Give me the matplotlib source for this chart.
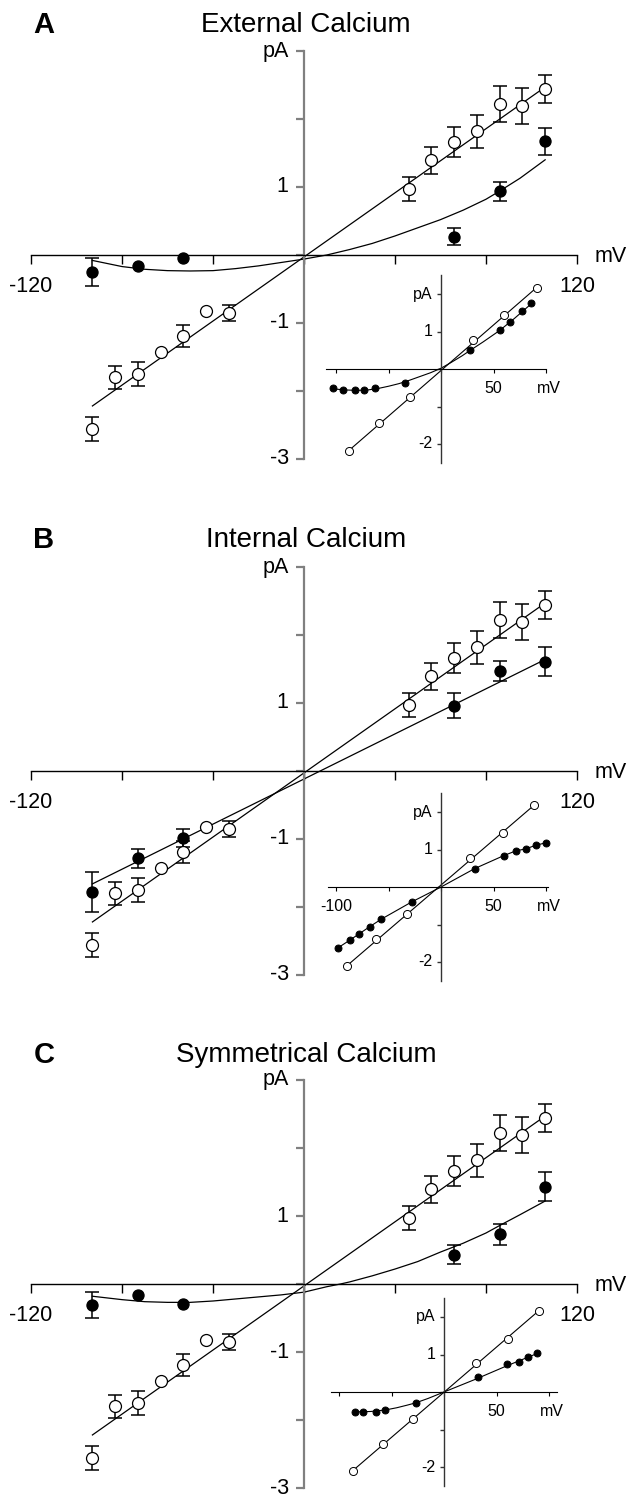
import matplotlib.pyplot as plt
import numpy as np

plt.rcParams['font.family'] = ['Liberation Sans', 'DejaVu Sans']

W, H = 630, 1499

# control recordings (open circles), same in all three panels
open_v = [-93, -83, -73, -63, -53, -43, -33, 46, 56, 66, 76, 86, 96, 106]
open_i = [-2.56, -1.80, -1.75, -1.43, -1.19, -0.83, -0.85,
          0.97, 1.39, 1.66, 1.82, 2.22, 2.19, 2.44]
open_err = [0.18, 0.17, 0.17, 0, 0.16, 0, 0.12,
            0.18, 0.20, 0.22, 0.24, 0.26, 0.26, 0.21]
open_fit_v = [-93, 106]
open_fit_i = [-2.22, 2.47]

# calcium recordings (filled circles)
filled_v = [-93, -73, -53, 66, 86, 106]
ext_i = [-0.25, -0.16, -0.05, 0.27, 0.94, 1.67]
ext_err = [0.20, 0, 0, 0.13, 0.14, 0.20]
int_i = [-1.78, -1.28, -0.99, 0.96, 1.47, 1.61]
int_err = [0.29, 0.14, 0.13, 0.18, 0.15, 0.22]
sym_i = [-0.31, -0.16, -0.30, 0.43, 0.73, 1.43]
sym_err = [0.19, 0, 0, 0.14, 0.15, 0.21]

# fitted curves for filled data
ext_fit_v = [-93, -80, -70, -60, -50, -40, -30, -20, -10, 0, 10, 20, 30, 40,
             50, 60, 70, 80, 86, 95, 106]
ext_fit_i = [-0.08, -0.17, -0.21, -0.23, -0.235, -0.23, -0.20, -0.16, -0.11,
             -0.06, 0.0, 0.08, 0.17, 0.28, 0.40, 0.52, 0.66, 0.82, 0.94, 1.13, 1.40]
int_fit_v = [-93, 106]
int_fit_i = [-1.66, 1.64]
sym_fit_v = [-93, -80, -70, -60, -50, -40, -30, -20, -10, 0, 10, 16, 20, 30,
             40, 50, 60, 70, 80, 86, 95, 106]
sym_fit_i = [-0.18, -0.23, -0.26, -0.27, -0.27, -0.25, -0.22, -0.19, -0.16,
             -0.12, -0.04, 0.0, 0.03, 0.12, 0.22, 0.33, 0.47, 0.60, 0.75, 0.86,
             1.02, 1.22]

# insets
ins_open_a_v = [-88, -59, -30, 30, 60, 91]
ins_open_a_i = [-2.18, -1.43, -0.75, 0.77, 1.43, 2.17]
ins_fill_a_v = [-103, -93, -82, -73, -63, -34, 28, 56, 66, 77, 86]
ins_fill_a_i = [-0.51, -0.57, -0.57, -0.57, -0.51, -0.36, 0.52, 1.04, 1.26, 1.54, 1.75]
ins_fit_a_v = [-103, -90, -80, -70, -60, -50, -40, -30, -20, -10, 0, 10, 20, 28,
               40, 56, 70, 86]
ins_fit_a_i = [-0.53, -0.56, -0.57, -0.56, -0.52, -0.46, -0.39, -0.30, -0.20,
               -0.10, 0.02, 0.18, 0.35, 0.50, 0.72, 1.03, 1.35, 1.74]

ins_open_b_v = [-90, -62, -32, 28, 59, 89]
ins_open_b_i = [-2.11, -1.39, -0.71, 0.77, 1.44, 2.19]
ins_fill_b_v = [-98, -87, -78, -68, -57, -28, 32, 60, 71, 81, 90, 100]
ins_fill_b_i = [-1.62, -1.42, -1.25, -1.06, -0.86, -0.40, 0.49, 0.84, 0.96,
                1.02, 1.11, 1.18]
ins_fit_b_v = [-98, -87, -78, -68, -57, -28, 0, 32, 60, 71, 81, 90, 100]
ins_fit_b_i = [-1.62, -1.42, -1.25, -1.06, -0.86, -0.40, 0.0, 0.49, 0.84, 0.96,
               1.02, 1.11, 1.18]

ins_open_c_v = [-87, -58, -30, 30, 61, 90]
ins_open_c_i = [-2.10, -1.38, -0.71, 0.78, 1.41, 2.16]
ins_fill_c_v = [-85, -77, -65, -56, -27, 32, 60, 71, 80, 89]
ins_fill_c_i = [-0.52, -0.52, -0.52, -0.48, -0.29, 0.40, 0.74, 0.79, 0.93, 1.03]
ins_fit_c_v = [-85, -70, -56, -45, -35, -27, -15, 0, 30, 60, 89]
ins_fit_c_i = [-0.53, -0.52, -0.48, -0.42, -0.35, -0.29, -0.17, 0.0, 0.34, 0.70, 1.03]

titles = ['External Calcium', 'Internal Calcium', 'Symmetrical Calcium']
letters = ['A', 'B', 'C']


def px_axes(fig, x0, x1, y0, y1):
    return fig.add_axes([x0 / W, 1 - y1 / H, (x1 - x0) / W, (y1 - y0) / H])


def style_axes(ax, ycol, ylw, xlw, xt_len, yt_len):
    for s in ['top', 'right']:
        ax.spines[s].set_visible(False)
    ax.spines['left'].set_position(('data', 0))
    ax.spines['bottom'].set_position(('data', 0))
    ax.spines['left'].set_color(ycol)
    ax.spines['left'].set_linewidth(ylw)
    ax.spines['bottom'].set_color('black')
    ax.spines['bottom'].set_linewidth(xlw)
    ax.tick_params(axis='x', direction='out', length=xt_len, width=xlw,
                   labelbottom=False, color='black')
    ax.tick_params(axis='y', direction='out', length=yt_len, width=ylw,
                   labelleft=False, color=ycol)
    ax.patch.set_visible(False)


def draw_points(ax, v, i, err, face, ms, mew, capsize, ew):
    v = np.array(v)
    i = np.array(i)
    if err is not None:
        err = np.array(err)
        m = err > 0
        cont = ax.errorbar(v[m], i[m], yerr=err[m], fmt='none', ecolor='black',
                           elinewidth=ew, capsize=capsize, capthick=ew, zorder=3)
        for c in cont.get_children():
            c.set_clip_on(False)
    ax.plot(v, i, 'o', ms=ms, mfc=face, mec='black', mew=mew, zorder=4,
            clip_on=False)


fig = plt.figure(figsize=(W / 100, H / 100), dpi=100)

panels = [
    dict(y0=255, title_y=25, fill_i=ext_i, fill_err=ext_err,
         fit_v=ext_fit_v, fit_i=ext_fit_i,
         ins=(441, 369, -110, 100),
         iov=ins_open_a_v, ioi=ins_open_a_i, ifv=ins_fill_a_v, ifi=ins_fill_a_i,
         itv=ins_fit_a_v, iti=ins_fit_a_i, neg100=False),
    dict(y0=771, title_y=540, fill_i=int_i, fill_err=int_err,
         fit_v=int_fit_v, fit_i=int_fit_i,
         ins=(441, 887, -108, 102),
         iov=ins_open_b_v, ioi=ins_open_b_i, ifv=ins_fill_b_v, ifi=ins_fill_b_i,
         itv=ins_fit_b_v, iti=ins_fit_b_i, neg100=True),
    dict(y0=1284, title_y=1055, fill_i=sym_i, fill_err=sym_err,
         fit_v=sym_fit_v, fit_i=sym_fit_i,
         ins=(444, 1392, -108, 108),
         iov=ins_open_c_v, ioi=ins_open_c_i, ifv=ins_fill_c_v, ifi=ins_fill_c_i,
         itv=ins_fit_c_v, iti=ins_fit_c_i, neg100=False),
]

ppa = 68.0          # pixels per pA, main axes
x_left, x_right = 31, 577

for k, p in enumerate(panels):
    fig.text(306 / W, 1 - p['title_y'] / H, titles[k], ha='center', va='center',
             fontsize=20)
    fig.text(44 / W, 1 - p['title_y'] / H, letters[k], ha='center', va='center',
             fontsize=21, fontweight='bold')

    y0 = p['y0']
    ax = px_axes(fig, x_left, x_right, y0 - 3 * ppa, y0 + 3 * ppa)
    ax.set_xlim(-120, 120)
    ax.set_ylim(-3, 3)
    style_axes(ax, '#808080', 1.6, 1.0, 6.5, 5.8)
    ax.set_xticks(np.arange(-120, 121, 40))
    ax.set_yticks(np.arange(-3, 4, 1))

    ax.plot(open_fit_v, open_fit_i, color='black', lw=0.9, zorder=2, clip_on=False)
    ax.plot(p['fit_v'], p['fit_i'], color='black', lw=0.9, zorder=2, clip_on=False)
    draw_points(ax, open_v, open_i, open_err, 'white', 8.6, 0.9, 4.7, 1.1)
    draw_points(ax, filled_v, p['fill_i'], p['fill_err'], 'black', 8.0, 0.9, 4.7, 1.1)

    lab = dict(fontsize=15.5, textcoords='offset points', annotation_clip=False)
    for yv, t in [(3, 'pA'), (1, '1'), (-1, '-1'), (-3, '-3')]:
        ax.annotate(t, xy=(0, yv), xytext=(-11, 0), ha='right', va='center', **lab)
    ax.annotate('-120', xy=(-120, 0), xytext=(0, -23), ha='center', va='center', **lab)
    ax.annotate('120', xy=(120, 0), xytext=(0, -23), ha='center', va='center', **lab)
    ax.annotate('mV', xy=(120, 0), xytext=(13, -1), ha='left', va='center', **lab)

    # inset
    ox, oy, vmin, vmax = p['ins']
    pxmv, pxpa = 1.05, 37.5
    ia = px_axes(fig, ox + vmin * pxmv, ox + vmax * pxmv, oy - 2.5 * pxpa, oy + 2.5 * pxpa)
    ia.set_xlim(vmin, vmax)
    ia.set_ylim(-2.5, 2.5)
    style_axes(ia, '#333333', 1.0, 0.8, 3.0, 3.0)
    ia.set_xticks([-100, -50, 0, 50, 100])
    ia.set_yticks([-2, -1, 0, 1, 2])

    ia.plot([p['iov'][0], p['iov'][-1]], [p['ioi'][0], p['ioi'][-1]],
            color='black', lw=0.8, zorder=2, clip_on=False)
    ia.plot(p['itv'], p['iti'], color='black', lw=0.8, zorder=2, clip_on=False)
    draw_points(ia, p['iov'], p['ioi'], None, 'white', 5.8, 0.7, 0, 0)
    draw_points(ia, p['ifv'], p['ifi'], None, 'black', 5.0, 0.7, 0, 0)

    ilab = dict(fontsize=11.5, textcoords='offset points', annotation_clip=False)
    for yv, t in [(2, 'pA'), (1, '1'), (-2, '-2')]:
        ia.annotate(t, xy=(0, yv), xytext=(-6, 0), ha='right', va='center', **ilab)
    ia.annotate('50', xy=(50, 0), xytext=(0, -14), ha='center', va='center', **ilab)
    ia.annotate('mV', xy=(100, 0), xytext=(2, -14), ha='center', va='center', **ilab)
    if p['neg100']:
        ia.annotate('-100', xy=(-100, 0), xytext=(0, -14), ha='center', va='center', **ilab)

fig.savefig('out.png', dpi=100)
